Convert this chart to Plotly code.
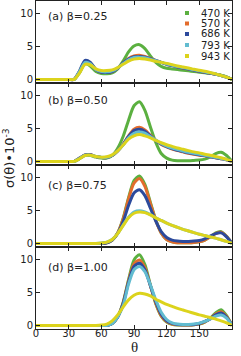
import plotly.graph_objects as go
from plotly.subplots import make_subplots

theta = list(range(0, 181, 5))
temps = ["470 K", "570 K", "686 K", "793 K", "943 K"]
colors = ["#5bb040", "#e36c2c", "#2c4a9c", "#62bcd0", "#dcd31c"]
panel_labels = ["(a) β=0.25", "(b) β=0.50", "(c) β=0.75", "(d) β=1.00"]
x_ticks = [0, 30, 60, 90, 120, 150, 180]
y_ticks = [0, 5, 10]

Z8 = [0] * 8  # 0..35
Z12 = [0] * 12  # 0..55

# panel (a) beta=0.25
a_470 = Z8 + [1.0, 2.4, 2.0, 1.2, 0.9, 0.85, 1.0, 1.6, 2.8, 4.2, 5.1, 5.3, 4.7, 3.6, 2.6, 2.0, 1.7, 1.6, 1.5, 1.4, 1.3, 1.2, 1.1, 1.0, 0.9, 0.8, 0.65, 0.4, 0]
a_570 = Z8 + [1.2, 2.7, 2.5, 1.5, 1.1, 1.05, 1.2, 1.7, 2.5, 3.2, 3.6, 3.7, 3.5, 3.2, 2.9, 2.6, 2.3, 2.1, 1.9, 1.75, 1.6, 1.4, 1.25, 1.1, 0.95, 0.8, 0.6, 0.35, 0]
a_686 = Z8 + [1.3, 2.9, 2.6, 1.5, 1.1, 1.05, 1.2, 1.7, 2.5, 3.1, 3.45, 3.5, 3.4, 3.15, 2.85, 2.6, 2.3, 2.1, 1.9, 1.75, 1.6, 1.4, 1.25, 1.1, 0.95, 0.8, 0.6, 0.35, 0]
a_793 = Z8 + [1.2, 2.6, 2.4, 1.5, 1.2, 1.15, 1.3, 1.75, 2.4, 3.0, 3.35, 3.4, 3.3, 3.1, 2.85, 2.6, 2.35, 2.15, 1.95, 1.8, 1.65, 1.45, 1.3, 1.15, 1.0, 0.82, 0.6, 0.35, 0]
a_943 = Z8 + [1.0, 2.3, 2.2, 1.6, 1.35, 1.35, 1.45, 1.8, 2.3, 2.8, 3.1, 3.2, 3.1, 2.95, 2.75, 2.6, 2.45, 2.25, 2.05, 1.9, 1.75, 1.55, 1.4, 1.25, 1.05, 0.85, 0.6, 0.35, 0]

# panel (b) beta=0.50
b_470 = Z8 + [0.4, 0.9, 0.9, 0.65, 0.5, 0.5, 0.9, 2.0, 3.8, 6.3, 8.5, 9.1, 7.8, 5.3, 2.9, 1.2, 0.5, 0.2, 0.1, 0.1, 0.1, 0.15, 0.2, 0.35, 0.7, 1.2, 1.4, 0.9, 0]
b_570 = Z8 + [0.5, 1.0, 1.0, 0.75, 0.6, 0.6, 0.9, 1.6, 2.6, 3.9, 4.9, 5.2, 4.8, 4.0, 3.2, 2.6, 2.2, 1.9, 1.65, 1.45, 1.25, 1.1, 0.95, 0.85, 0.7, 0.55, 0.4, 0.25, 0]
b_686 = Z8 + [0.5, 1.0, 1.0, 0.75, 0.6, 0.6, 0.9, 1.6, 2.6, 3.8, 4.7, 4.9, 4.6, 3.9, 3.2, 2.65, 2.25, 1.95, 1.7, 1.5, 1.3, 1.15, 1.0, 0.88, 0.72, 0.57, 0.42, 0.25, 0]
b_793 = Z8 + [0.45, 0.95, 0.95, 0.75, 0.62, 0.62, 0.95, 1.6, 2.5, 3.6, 4.3, 4.5, 4.3, 3.8, 3.25, 2.75, 2.35, 2.05, 1.8, 1.6, 1.4, 1.25, 1.1, 0.95, 0.8, 0.62, 0.45, 0.27, 0]
b_943 = Z8 + [0.4, 0.9, 0.95, 0.75, 0.65, 0.7, 1.0, 1.6, 2.5, 3.4, 3.9, 4.1, 3.9, 3.6, 3.2, 2.85, 2.55, 2.3, 2.05, 1.85, 1.65, 1.45, 1.3, 1.1, 0.95, 0.75, 0.55, 0.3, 0]

# panel (c) beta=0.75
c_470 = Z12 + [0.0, 0.1, 0.5, 1.6, 3.8, 7.0, 9.6, 10.3, 9.0, 6.3, 3.6, 1.6, 0.6, 0.25, 0.1, 0.1, 0.1, 0.15, 0.25, 0.5, 1.0, 1.6, 1.8, 1.1, 0]
c_570 = Z12 + [0.0, 0.1, 0.5, 1.6, 3.7, 6.8, 9.2, 9.9, 8.7, 6.1, 3.5, 1.6, 0.6, 0.25, 0.1, 0.1, 0.1, 0.15, 0.25, 0.5, 1.0, 1.5, 1.7, 1.05, 0]
c_686 = Z12 + [0.0, 0.1, 0.5, 1.5, 3.3, 5.8, 7.7, 8.2, 7.3, 5.4, 3.4, 1.8, 0.9, 0.5, 0.35, 0.3, 0.3, 0.35, 0.45, 0.7, 1.1, 1.5, 1.6, 1.0, 0]
c_793 = Z12 + [0.05, 0.2, 0.6, 1.5, 2.8, 4.0, 4.8, 5.0, 4.8, 4.4, 3.9, 3.5, 3.1, 2.75, 2.45, 2.15, 1.9, 1.65, 1.4, 1.2, 1.0, 0.8, 0.55, 0.3, 0]
c_943 = Z12 + [0.05, 0.2, 0.6, 1.5, 2.7, 3.9, 4.6, 4.8, 4.7, 4.35, 3.9, 3.5, 3.1, 2.75, 2.45, 2.15, 1.9, 1.65, 1.4, 1.2, 1.0, 0.8, 0.55, 0.3, 0]

# panel (d) beta=1.00
d_470 = Z12 + [0.0, 0.0, 0.3, 1.3, 3.5, 7.0, 10.0, 10.8, 9.3, 6.2, 3.3, 1.4, 0.5, 0.15, 0.05, 0.05, 0.05, 0.1, 0.2, 0.5, 1.1, 1.9, 2.4, 1.5, 0]
d_570 = Z12 + [0.0, 0.0, 0.3, 1.3, 3.4, 6.8, 9.4, 10.0, 8.8, 6.1, 3.4, 1.5, 0.6, 0.2, 0.08, 0.05, 0.05, 0.1, 0.25, 0.55, 1.05, 1.75, 2.1, 1.35, 0]
d_686 = Z12 + [0.0, 0.0, 0.3, 1.3, 3.3, 6.6, 9.0, 9.5, 8.5, 6.1, 3.6, 1.7, 0.7, 0.3, 0.12, 0.1, 0.1, 0.15, 0.3, 0.6, 1.0, 1.6, 1.9, 1.25, 0]
d_793 = Z12 + [0.0, 0.0, 0.3, 1.3, 3.0, 6.3, 8.5, 9.0, 8.2, 6.2, 3.9, 2.0, 0.9, 0.4, 0.2, 0.15, 0.15, 0.2, 0.35, 0.6, 1.0, 1.4, 1.6, 1.1, 0]
d_943 = Z12 + [0.05, 0.2, 0.7, 1.6, 2.8, 3.9, 4.6, 4.9, 4.8, 4.5, 4.0, 3.6, 3.2, 2.9, 2.6, 2.35, 2.1, 1.85, 1.6, 1.4, 1.2, 0.95, 0.7, 0.4, 0]

panels = [
    [a_470, a_570, a_686, a_793, a_943],
    [b_470, b_570, b_686, b_793, b_943],
    [c_470, c_570, c_686, c_793, c_943],
    [d_470, d_570, d_686, d_793, d_943],
]

W, H = 241, 356
ML, MR, MT, MB = 36, 9, 1, 27
PW, PH = W - ML - MR, H - MT - MB

fig = make_subplots(rows=4, cols=1, shared_xaxes=True, vertical_spacing=0)

for r, series in enumerate(panels, start=1):
    for name, col, ys in zip(temps, colors, series):
        fig.add_trace(go.Scatter(
            x=theta, y=ys, mode="lines", name=name, showlegend=False,
            line=dict(color=col, width=3, shape="spline", smoothing=0.7),
        ), row=r, col=1)

axis_common = dict(
    showline=True, linecolor="#222", linewidth=1, mirror="ticks", automargin=False,
    ticks="inside", ticklen=4, tickcolor="#222", showgrid=False, zeroline=False,
    tickfont=dict(family="DejaVu Sans", size=10, color="#222"),
)
for r in range(1, 5):
    fig.update_yaxes(range=[-0.55, 11.97], tickvals=y_ticks, row=r, col=1, **axis_common)
    fig.update_xaxes(range=[0, 180], tickvals=x_ticks, showticklabels=(r == 4),
                     ticklabelstandoff=-5, row=r, col=1, **axis_common)


def px_x(px):
    return (px - ML) / PW


def px_y(py):
    return (H - MB - py) / PH


annotations = []
label_py = [16, 100, 185, 267]
for lab, py in zip(panel_labels, label_py):
    annotations.append(dict(text=lab, x=px_x(46), y=px_y(py), xref="paper", yref="paper",
                            xanchor="left", yanchor="middle", showarrow=False,
                            font=dict(family="DejaVu Sans", size=11, color="#222")))

shapes = []
legend_py = [13, 23.5, 34, 45, 56]
for name, col, py in zip(temps, colors, legend_py):
    shapes.append(dict(type="rect", xref="paper", yref="paper", xsizemode="pixel", ysizemode="pixel",
                       xanchor=px_x(187), yanchor=px_y(py), x0=-2, x1=2, y0=-2, y1=2,
                       fillcolor=col, line=dict(width=0)))
    annotations.append(dict(text=name, x=px_x(199), y=px_y(py), xref="paper", yref="paper",
                            xanchor="left", yanchor="middle", showarrow=False,
                            font=dict(family="DejaVu Sans", size=10, color="#222")))

annotations.append(dict(text="σ(θ)•10<sup>-3</sup>", x=px_x(9), y=px_y(158), xref="paper", yref="paper",
                        xanchor="center", yanchor="middle", textangle=-90, showarrow=False,
                        font=dict(family="DejaVu Sans", size=13, color="#222")))
annotations.append(dict(text="θ", x=px_x(134), y=px_y(347), xref="paper", yref="paper",
                        xanchor="center", yanchor="middle", showarrow=False, borderpad=0,
                        font=dict(family="Liberation Serif", size=15, color="#222")))

fig.update_layout(
    width=W, height=H, margin=dict(l=ML, r=MR, t=MT, b=MB),
    paper_bgcolor="white", plot_bgcolor="white", showlegend=False,
    annotations=annotations, shapes=shapes,
)

fig.write_html("out.html", config={"displayModeBar": False},
               post_script="document.body.style.margin='0';")
